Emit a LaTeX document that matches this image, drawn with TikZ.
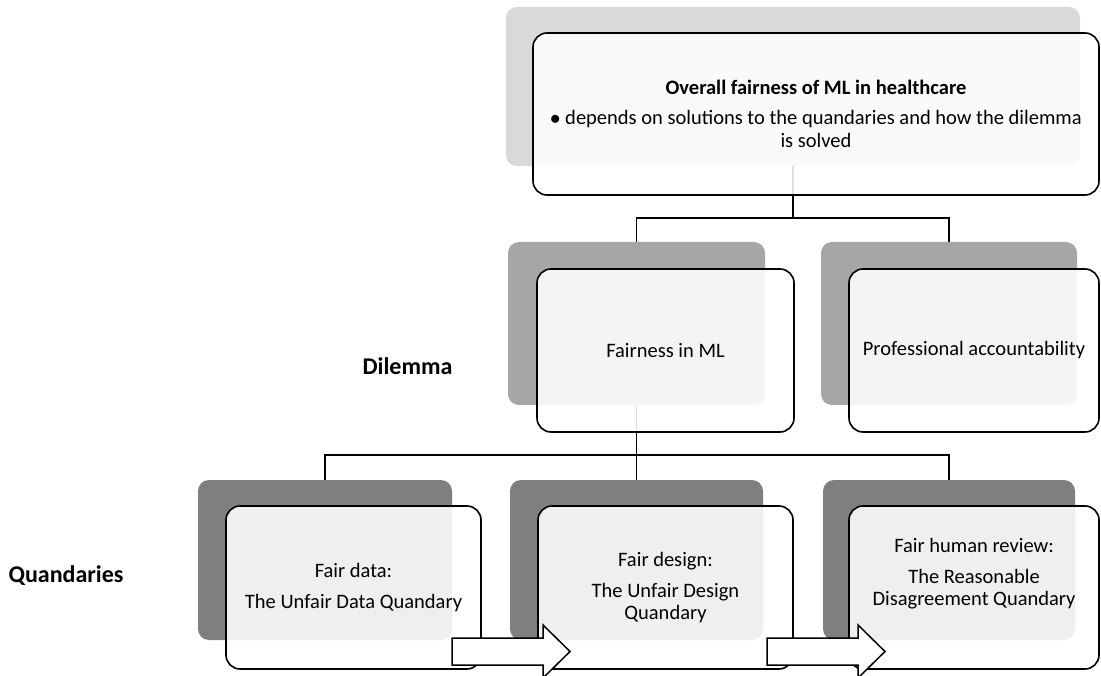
\documentclass[tikz,border=0pt]{standalone}
\usepackage{fontspec}
\setmainfont{Carlito}
\usetikzlibrary{positioning}

\definecolor{shadetop}{HTML}{D9D9D9}
\definecolor{shademid}{HTML}{A6A6A6}
\definecolor{shadelow}{HTML}{7F7F7F}

\begin{document}
\begin{tikzpicture}[x=1pt, y=-1pt,
    back/.style={rectangle, rounded corners=11pt, inner sep=0pt},
    front/.style={rectangle, rounded corners=14pt, draw=black, line width=1.6pt,
      fill=white, fill opacity=0.88, text opacity=1, inner sep=0pt, align=center,
      font=\fontsize{20.5}{22.5}\selectfont},
    link/.style={line width=1.8pt},
    level/.style={anchor=base, font=\fontsize{24}{28}\selectfont\bfseries}]
      \useasboundingbox (0,0) rectangle (1101,676);
      % shaded back plates
      \node[back, fill=shadetop, minimum width=574pt, minimum height=159pt] (overallB) at (793,86.5) {};
      \node[back, fill=shademid, minimum width=257pt, minimum height=163pt] (fairmlB) at (636.5,323.5) {};
      \node[back, fill=shademid, minimum width=256pt, minimum height=163pt] (accountB) at (949,323.5) {};
      \node[back, fill=shadelow, minimum width=254pt, minimum height=160pt] (dataB) at (325,560) {};
      \node[back, fill=shadelow, minimum width=253pt, minimum height=160pt] (designB) at (636.5,560) {};
      \node[back, fill=shadelow, minimum width=252pt, minimum height=160pt] (humanB) at (949,560) {};
      % tree lines
      \path (overallB.south) ++(0,52) coordinate (topfork);
      \path (fairmlB.south) ++(0,50) coordinate (lowfork);
      \draw[link] (overallB.south) -- (topfork);
      \draw[link] (fairmlB.north) |- (topfork) -| (accountB.north);
      \draw[link] (fairmlB.south) -- (lowfork) -- (designB.north);
      \draw[link] (dataB.north) |- (lowfork) -| (humanB.north);
      % front cards
      \node[front, minimum width=566pt, minimum height=162pt] (overall) at (816,114)
        {\textbf{Overall fairness of ML in healthcare}\\[7.5pt]
         $\bullet$ depends on solutions to the quandaries and how the dilemma\\ is solved};
      \node[front, minimum width=257pt, minimum height=163pt] (fairml) at (665.5,350.5) {Fairness in ML};
      \node[front, minimum width=250pt, minimum height=163pt] (account) at (974,350.5) {Professional accountability};
      \node[front, minimum width=255pt, minimum height=163pt] (data) at (353.5,587.5)
        {Fair data:\\[8.5pt] The Unfair Data Quandary};
      \node[front, minimum width=255pt, minimum height=163pt] (design) at (665.5,587.5)
        {Fair design:\\[8.5pt] The Unfair Design\\ Quandary};
      \node[front, minimum width=250pt, minimum height=163pt] (human) at (974,587.5)
        {Fair human review:\\[8.5pt] The Reasonable\\ Disagreement Quandary\\[8.5pt] ~};
      % level names
      \node[level] (dilemma) at (407.5,374) {Dilemma};
      \node[level, anchor=base east] (quandaries) at (127,582) {Quandaries};
      % block arrows
      \draw[line width=1.5pt, fill=white] (452,638) -- (543,638) -- (543,625) -- (570,651.5)
        -- (543,678) -- (543,665) -- (452,665) -- cycle;
      \draw[line width=1.5pt, fill=white] (767,638) -- (858,638) -- (858,625) -- (885,651.5)
        -- (858,678) -- (858,665) -- (767,665) -- cycle;
\end{tikzpicture}
\end{document}
